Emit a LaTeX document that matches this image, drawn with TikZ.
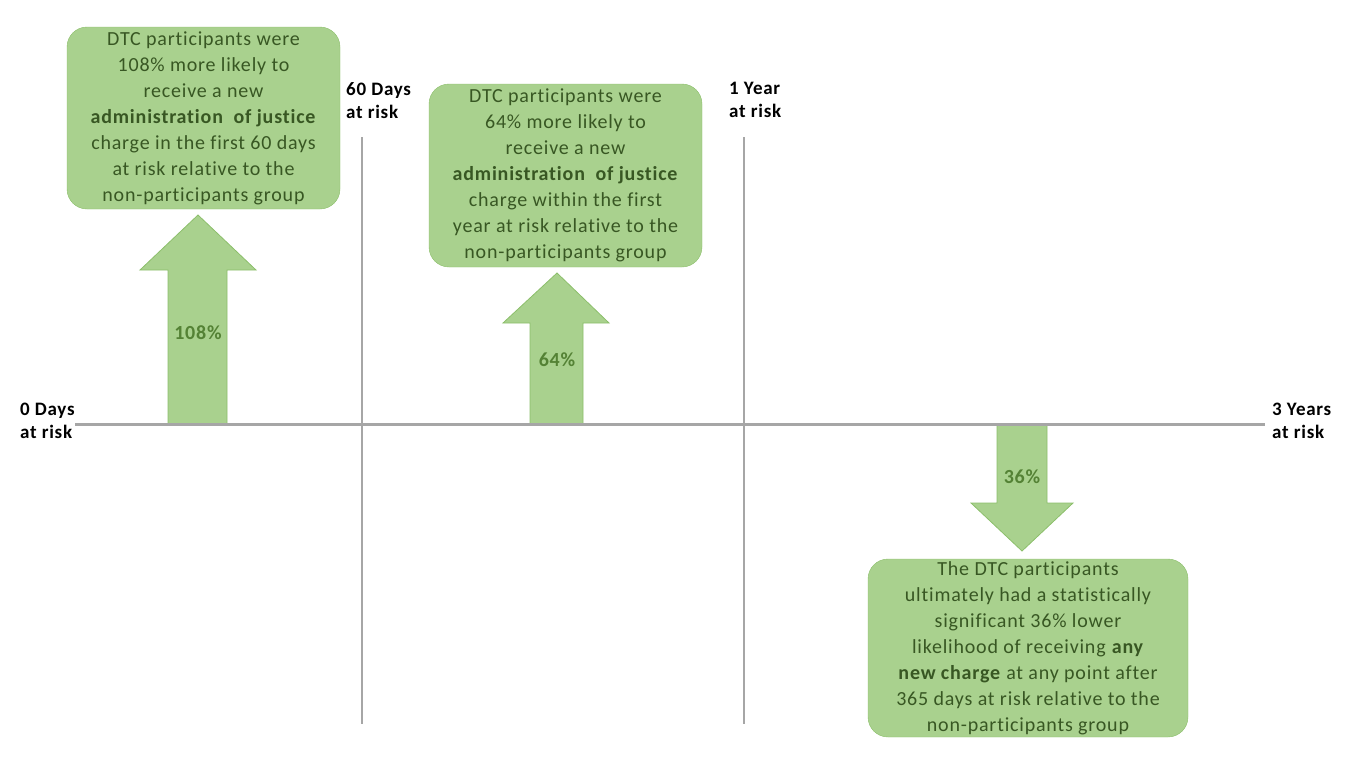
\documentclass[tikz,border=0pt]{standalone}
\usepackage{fontspec}
\setmainfont{Carlito}[LetterSpace=4, Ligatures=NoCommon]
\usetikzlibrary{positioning}

\definecolor{findfill}{HTML}{A9D18E}
\definecolor{findline}{HTML}{8CBF6B}
\definecolor{findtext}{HTML}{385723}
\definecolor{pcttext}{HTML}{548235}
\definecolor{axisgray}{HTML}{A6A6A6}

\tikzset{
  finding/.style={draw=findline, fill=findfill, rounded corners=20pt,
    align=center, text=findtext, inner sep=0pt,
    font=\fontsize{20}{26}\selectfont},
  blockarrow/.style={draw=findline, fill=findfill, line width=0.8pt},
  pct/.style={text=pcttext, inner sep=0pt, font=\bfseries\fontsize{20}{24}\selectfont},
  risklabel/.style={align=left, inner sep=0pt, anchor=north west,
    font=\bfseries\fontsize{19}{23}\selectfont},
  timeline/.style={draw=axisgray, line width=3pt},
  riskline/.style={draw=axisgray, line width=1.5pt}
}

\begin{document}
\begin{tikzpicture}[x=1pt,y=-1pt]
  \useasboundingbox (0,0) rectangle (1364,763);

  % time axis and markers
  \coordinate (start) at (75,424);
  \coordinate (end) at (1265,424);
  \coordinate (t60) at (362,137);
  \coordinate (b60) at (362,724);
  \coordinate (t1y) at (744,137);
  \coordinate (b1y) at (744,724);

  \draw[riskline] (t60) -- (b60);
  \draw[riskline] (t1y) -- (b1y);

  \node[risklabel] (lab0) at (20,403) {0 Days\\at risk};
  \node[risklabel] (lab60) at (346,82) {60 Days\\at risk};
  \node[risklabel] (lab1y) at (729,82) {1 Year\\at risk};
  \node[risklabel] (lab3y) at (1272,403) {3 Years\\at risk};

  % findings
  \node[finding, minimum width=273pt, minimum height=182pt] (find60) at (203.5,118)
    {DTC participants were\\108\% more likely to\\receive a new\\
     \textbf{administration\ \ of justice}\\charge in the first 60 days\\
     at risk relative to the\\non-participants group};
  \node[finding, minimum width=273pt, minimum height=183pt] (find1y) at (565.5,175.5)
    {DTC participants were\\64\% more likely to\\receive a new\\
     \textbf{administration\ \ of justice}\\charge within the first\\
     year at risk relative to the\\non-participants group};
  \node[finding, minimum width=320pt, minimum height=178pt] (find3y) at (1028,648)
    {The DTC participants\\ultimately had a statistically\\significant 36\% lower\\
     likelihood of receiving \textbf{any}\\\textbf{new charge} at any point after\\
     365 days at risk relative to the\\non-participants group};

  % block arrows
  \draw[blockarrow] (168,424) -- (168,270) -- (140,270) -- (198,215)
    -- (256,270) -- (227,270) -- (227,424) -- cycle;
  \draw[blockarrow] (530,424) -- (530,323) -- (503,323) -- (557,273)
    -- (609,323) -- (583,323) -- (583,424) -- cycle;
  \draw[blockarrow] (997,424) -- (997,503) -- (971,503) -- (1022,551)
    -- (1073,503) -- (1047,503) -- (1047,424) -- cycle;

  \node[pct] (pct60) at (198,333) {108\%};
  \node[pct] (pct1y) at (557,360) {64\%};
  \node[pct] (pct3y) at (1022,477) {36\%};

  \draw[timeline] (start) -- (end);
\end{tikzpicture}
\end{document}
